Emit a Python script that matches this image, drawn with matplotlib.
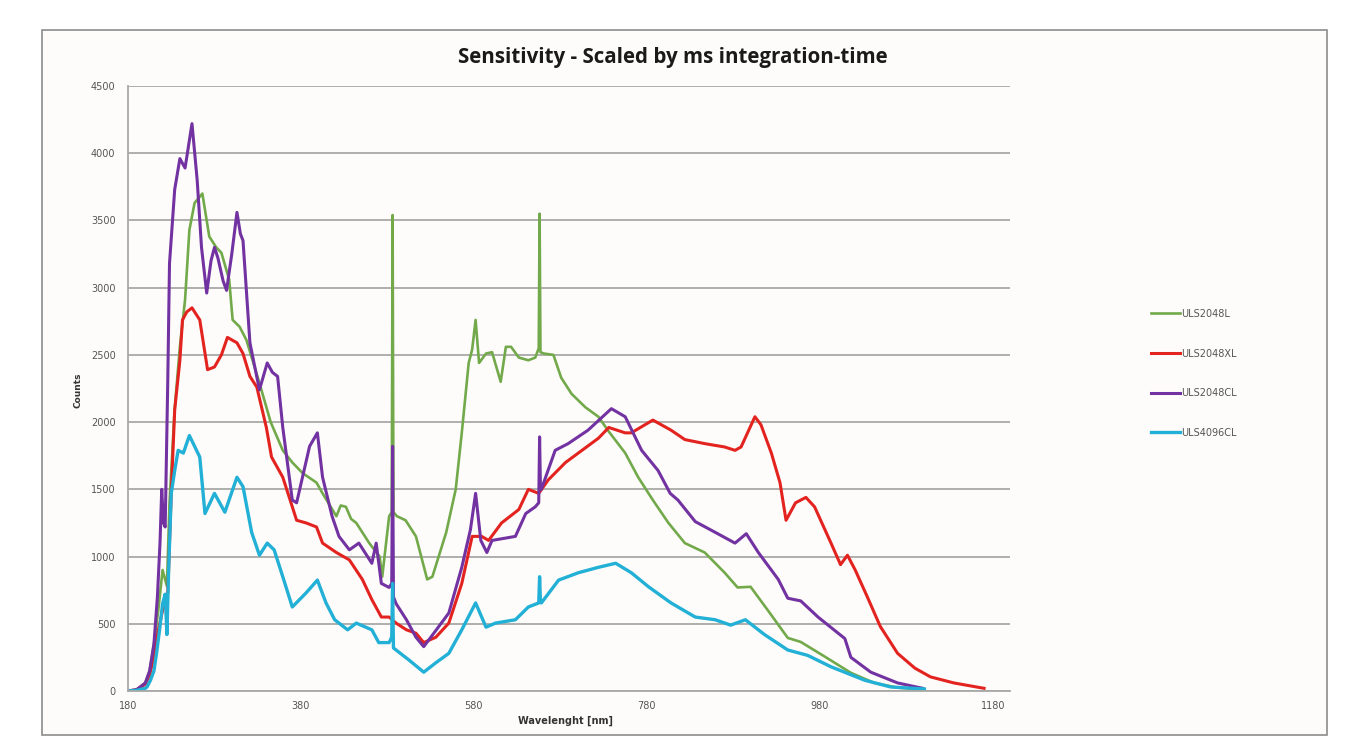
import matplotlib
matplotlib.use('Agg')
import matplotlib.pyplot as plt
from matplotlib.patches import Rectangle

# ULS2048L (green)
green_wl = [180, 190, 200, 205, 210, 215, 220, 225, 228, 234, 240, 246, 251, 257, 266, 274, 282, 288,
            297, 301, 309, 317, 332, 345, 359, 370, 382, 398, 405, 421, 426, 432, 438, 444, 459, 471,
            474, 482, 485, 486, 487, 491, 501, 513, 526, 532, 548, 559, 566, 574, 578, 582, 586, 594,
            601, 611, 617, 623, 632, 643, 651, 655, 656, 657, 661, 672, 681, 693, 709, 724, 736, 755,
            770, 787, 805, 824, 847, 870, 885, 900, 920, 943, 958, 986, 1016, 1043, 1070, 1100]
green_cts = [0, 10, 60, 150, 350, 600, 900, 780, 1400, 2100, 2560, 2910, 3430, 3630, 3700, 3380, 3300, 3260,
             3060, 2760, 2710, 2610, 2290, 2000, 1790, 1700, 1620, 1550, 1470, 1300, 1380, 1370, 1280, 1250, 1100, 1000,
             850, 1300, 1330, 3540, 1330, 1300, 1270, 1150, 830, 850, 1180, 1500, 1920, 2440, 2540, 2760, 2440, 2510,
             2520, 2300, 2560, 2560, 2480, 2460, 2480, 2550, 3550, 2520, 2510, 2500, 2330, 2210, 2110, 2040, 1930, 1770,
             1590, 1420, 1250, 1100, 1030, 880, 770, 775, 600, 395, 365, 255, 135, 60, 25, 10]

# ULS2048XL (red)
red_wl = [180, 190, 200, 205, 210, 215, 220, 226, 230, 234, 240, 243, 248, 254, 263, 272, 280, 288,
          295, 306, 313, 321, 329, 340, 346, 359, 375, 386, 398, 405, 421, 436, 451, 462, 473, 482,
          490, 502, 513, 522, 536, 551, 566, 578, 589, 597, 612, 632, 643, 655, 666, 686, 705, 724,
          736, 755, 762, 787, 808, 824, 847, 870, 882, 889, 905, 912, 924, 934, 941, 952, 964, 974, 993,
          1004, 1012, 1021, 1035, 1050, 1070, 1090, 1108, 1135, 1170]
red_cts = [0, 10, 50, 120, 250, 450, 600, 730, 1470, 2090, 2460, 2760, 2820, 2850, 2760, 2390, 2410, 2500,
           2630, 2590, 2510, 2340, 2260, 1960, 1740, 1590, 1270, 1250, 1220, 1100, 1030, 975, 830, 680, 550, 550,
           505, 455, 430, 360, 400, 505, 800, 1150, 1150, 1120, 1250, 1350, 1500, 1470, 1570, 1700, 1790, 1880,
           1960, 1920, 1920, 2015, 1940, 1870, 1840, 1815, 1790, 1815, 2040, 1980, 1770, 1550, 1270, 1400, 1440, 1370, 1100,
           940, 1010, 900, 700, 480, 280, 170, 105, 60, 20]

# ULS2048CL (purple)
purple_wl = [180, 190, 200, 205, 210, 214, 217, 219, 221, 223, 226, 228, 234, 240, 246, 254, 260, 265,
             271, 276, 280, 284, 290, 294, 300, 306, 310, 313, 321, 332, 341, 347, 353, 359, 370, 375,
             390, 399, 405, 416, 424, 436, 447, 462, 467, 473, 482, 485, 486, 487, 490, 502, 513, 522,
             536, 551, 566, 576, 582, 588, 595, 601, 628, 640, 651, 655, 656, 657, 658, 674, 689, 712,
             739, 755, 774, 793, 807, 816, 836, 862, 882, 895, 909, 932, 943, 958, 978, 1009, 1016,
             1039, 1070, 1099]
purple_cts = [0, 10, 60, 150, 350, 700, 1100, 1500, 1250, 1220, 2310, 3180, 3730, 3960, 3890, 4220, 3800, 3300,
              2960, 3200, 3300, 3220, 3050, 2980, 3250, 3560, 3400, 3350, 2590, 2240, 2440, 2370, 2340, 1960, 1420, 1400,
              1820, 1920, 1590, 1300, 1150, 1050, 1100, 950, 1100, 800, 770, 800, 1820, 700, 650, 530, 400, 330,
              450, 580, 920, 1200, 1470, 1120, 1030, 1120, 1150, 1320, 1370, 1400, 1890, 1500, 1500, 1790, 1840, 1940,
              2100, 2040, 1790, 1640, 1470, 1420, 1260, 1170, 1100, 1170, 1030, 830, 690, 670, 550, 390, 250,
              140, 60, 20]

# ULS4096CL (cyan)
cyan_wl = [180, 190, 200, 202, 206, 210, 213, 217, 220, 223, 225, 227, 230, 234, 238, 244, 251, 257,
           263, 269, 280, 292, 306, 313, 323, 332, 341, 349, 359, 370, 386, 399, 409, 419, 434, 444,
           462, 470, 482, 485, 486, 487, 490, 505, 522, 536, 551, 566, 582, 594, 605, 628, 643, 655,
           656, 657, 658, 678, 701, 724, 744, 762, 782, 808, 836, 859, 877, 894, 916, 943, 966, 993,
           1032, 1062, 1101]
cyan_cts = [0, 5, 20, 30, 80, 150, 280, 480, 650, 720, 420, 900, 1470, 1640, 1790, 1770, 1900, 1820,
            1740, 1320, 1470, 1330, 1590, 1520, 1180, 1010, 1100, 1050, 850, 625, 730, 825, 655, 530, 455, 505,
            455, 360, 360, 400, 800, 320, 305, 230, 140, 210, 280, 455, 655, 475, 505, 530, 625, 655,
            850, 660, 655, 825, 880, 920, 950, 880, 775, 655, 550, 530, 490, 530, 420, 305, 265, 180,
            80, 30, 15]

series_names = ['ULS2048L', 'ULS2048XL', 'ULS2048CL', 'ULS4096CL']
series_colors = ['#72a94b', '#e3231f', '#7232a2', '#22b0d6']
x_ticks = [180, 380, 580, 780, 980, 1180]
y_ticks = [0, 500, 1000, 1500, 2000, 2500, 3000, 3500, 4000, 4500]

W, H = 1346, 751
fig = plt.figure(figsize=(W / 100, H / 100), dpi=100)
fig.patch.set_facecolor('white')

# chart frame
fig.add_artist(Rectangle((42 / W, 1 - 735 / H), (1327 - 42) / W, (735 - 30) / H,
                         transform=fig.transFigure, fill=True, facecolor='#fefcfa',
                         edgecolor='#8c8c8c', lw=1.2, zorder=0))

ax = fig.add_axes([128 / W, 1 - 691 / H, (1010 - 128) / W, (691 - 86) / H])
ax.set_facecolor('none')

data = [(green_wl, green_cts), (red_wl, red_cts), (purple_wl, purple_cts), (cyan_wl, cyan_cts)]
widths = [1.9, 2.2, 2.2, 2.4]
for (wl, cts), name, col, lw in zip(data, series_names, series_colors, widths):
    ax.plot(wl, cts, color=col, lw=lw, label=name, solid_joinstyle='round')

ax.set_xlim(180, 1200)
ax.set_ylim(0, 4500)
ax.set_xticks(x_ticks)
ax.set_yticks(y_ticks)
ax.tick_params(axis='both', length=0, labelsize=7, colors='#555555')
ax.tick_params(axis='x', pad=7)
ax.tick_params(axis='y', pad=9)
ax.grid(axis='y', color='#a8a8a8', lw=1.3)
ax.set_axisbelow(True)
for s in ['top', 'right']:
    ax.spines[s].set_visible(False)
ax.spines['left'].set_color('#a8a8a8')
ax.spines['bottom'].set_color('#a8a8a8')
ax.spines['left'].set_linewidth(1.3)
ax.spines['bottom'].set_linewidth(1.3)

fig.text(673 / W, 1 - 57 / H, 'Sensitivity - Scaled by ms integration-time', ha='center', va='center',
         fontsize=14.8, fontweight='bold', color='#1a1a1a', family='Open Sans')
fig.text(565 / W, 1 - 721 / H, 'Wavelenght [nm]', ha='center', va='center', fontsize=7,
         fontweight='bold', color='#333333')
fig.text(78 / W, 1 - 390 / H, 'Counts', ha='center', va='center', rotation=90, fontsize=6.5,
         fontweight='bold', color='#333333')

ax.legend(loc='upper left', bbox_to_anchor=(1146 / W, 1 - 304 / H), bbox_transform=fig.transFigure,
          frameon=False, fontsize=7, labelspacing=3.05, handlelength=3.0, handletextpad=0.1,
          borderpad=0, labelcolor='#555555')

fig.savefig('out.png', dpi=100, facecolor='white')
